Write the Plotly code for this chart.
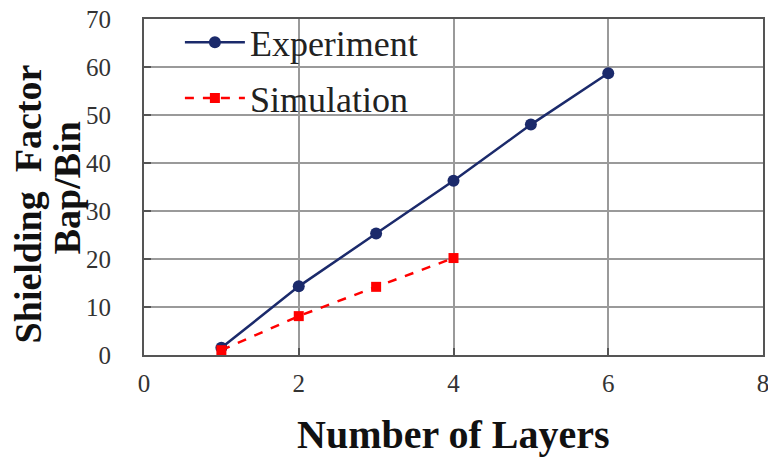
import plotly.graph_objects as go

layers_exp = [1, 2, 3, 4, 5, 6]
shield_exp = [1.5, 14.3, 25.3, 36.3, 48.0, 58.7]
layers_sim = [1, 2, 3, 4]
shield_sim = [1.0, 8.1, 14.2, 20.2]
x_ticks = [0, 2, 4, 6, 8]
y_ticks = [0, 10, 20, 30, 40, 50, 60, 70]

serif = "Liberation Serif, Times New Roman, serif"

fig = go.Figure()
fig.add_trace(go.Scatter(
    x=layers_exp, y=shield_exp, mode="lines+markers", name="Experiment",
    line=dict(color="#1b2a6b", width=2.5),
    marker=dict(symbol="circle", size=12, color="#1b2a6b"),
    legendgroup="a"))
fig.add_trace(go.Scatter(
    x=layers_sim, y=shield_sim, mode="lines+markers", name="Simulation",
    line=dict(color="#ff0000", width=2.5, dash="dash"),
    marker=dict(symbol="square", size=10, color="#ff0000"),
    legendgroup="b"))

axis_common = dict(
    showgrid=True, gridcolor="#9a9a9a", gridwidth=1.5,
    showline=True, linecolor="#555555", linewidth=2, mirror=True,
    ticks="inside", ticklen=7, tickcolor="#555555", tickwidth=1.5,
    zeroline=False, ticklabeloverflow="allow",
    tickfont=dict(family=serif, size=25, color="#333333"),
)

fig.update_xaxes(range=[0, 8], tickvals=x_ticks, ticklabelstandoff=5, **axis_common)
fig.update_yaxes(range=[0, 70], tickvals=y_ticks, ticklabelstandoff=26, **axis_common)

fig.update_layout(
    width=768, height=460,
    margin=dict(l=144, r=5, t=19, b=105, autoexpand=False),
    paper_bgcolor="white", plot_bgcolor="white",
    showlegend=True,
    legend=dict(x=0.058, y=1.02, xanchor="left", yanchor="top",
                bgcolor="rgba(0,0,0,0)", borderwidth=0,
                font=dict(family=serif, size=36, color="#222222"),
                itemwidth=60, tracegroupgap=6),
    annotations=[
        dict(text="<b>Number of Layers</b>", xref="paper", yref="paper",
             x=0.5, y=-0.238, xanchor="center", yanchor="middle",
             showarrow=False, font=dict(family=serif, size=40, color="#111111")),
        dict(text="<b>Shielding  Factor</b>", xref="paper", yref="paper",
             x=-0.187, y=0.449, xanchor="center", yanchor="middle", textangle=-90,
             showarrow=False, font=dict(family=serif, size=38, color="#111111")),
        dict(text="<b>Bap/Bin</b>", xref="paper", yref="paper",
             x=-0.124, y=0.497, xanchor="center", yanchor="middle", textangle=-90,
             showarrow=False, font=dict(family=serif, size=38, color="#111111")),
    ],
)

fig.write_html("out.html", config={"displayModeBar": False},
               post_script="document.body.style.margin='0';")
